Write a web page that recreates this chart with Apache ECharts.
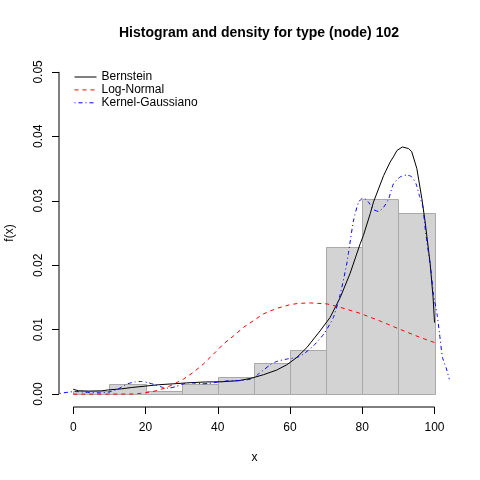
<!DOCTYPE html>
<html>
<head>
<meta charset="utf-8">
<script src="https://cdn.jsdelivr.net/npm/echarts@6/dist/echarts.min.js"></script>
<style>
  html, body { margin: 0; padding: 0; background: #fff; }
  #chart { width: 480px; height: 480px; }
</style>
</head>
<body>
<div id="chart"></div>
<script>
// histogram bins (density scale)
var binStarts = [0, 10, 20, 30, 40, 50, 60, 70, 80, 90];
var binEnds = [10, 20, 30, 40, 50, 60, 70, 80, 90, 100];
var binHeights = [0.0005, 0.0016, 0.0005, 0.0016, 0.0027, 0.0049, 0.0068, 0.0229, 0.0303, 0.0281];

// Bernstein estimate
var bernX = [0, 1.4, 4.2, 7.9, 9.7, 13.4, 16.2, 19.9, 23.5, 27.7, 31.9, 36.5, 41.1, 45.7, 49, 52.6, 56.3, 59.1, 61.9, 64.7, 68.3, 71.1, 73.9, 76.6, 79.4, 80.3, 82.2, 83.1, 85.9, 87.7, 88.6, 89.6, 91.1, 92.8, 93.7, 95.1, 96.5, 97.4, 98.3, 98.8, 99.6, 100];
var bernY = [0.00075, 0.00052, 0.00047, 0.00051, 0.00065, 0.00082, 0.00103, 0.00124, 0.00145, 0.0016, 0.00176, 0.00188, 0.00192, 0.00208, 0.00243, 0.003, 0.00373, 0.00455, 0.0057, 0.00725, 0.0098, 0.0119, 0.015, 0.0187, 0.0233, 0.0246, 0.028, 0.0298, 0.0339, 0.036, 0.0368, 0.0378, 0.03835, 0.0381, 0.0376, 0.035, 0.0303, 0.0267, 0.0225, 0.0202, 0.015, 0.0111];

// Log-Normal fit
var lnX = [0, 10, 17, 19.9, 22.6, 25.4, 27.3, 30.5, 33.2, 36, 38.8, 41.6, 44.3, 47.1, 49.9, 52.6, 56.3, 60, 62.3, 65.6, 70.2, 73.9, 79.4, 85.4, 90, 96, 100];
var lnY = [0, 0, 0.00002, 0.0002, 0.00047, 0.00093, 0.0014, 0.00233, 0.00336, 0.00466, 0.0062, 0.0078, 0.009, 0.01035, 0.0114, 0.01244, 0.0133, 0.01388, 0.01408, 0.01415, 0.014, 0.01347, 0.01253, 0.01124, 0.01015, 0.0088, 0.008];

// Gaussian kernel estimate
var kerX = [-3.7, -1.4, 0.5, 3.2, 6.9, 9.7, 12.5, 14.8, 17.1, 18.9, 20.8, 22.6, 24.5, 26.3, 28.2, 30, 31.9, 33.7, 35.6, 37.4, 40.2, 42.9, 46.6, 49.4, 51.2, 52.6, 54.5, 56.3, 59.1, 61.9, 63.7, 66.5, 69.3, 72, 73.9, 75.7, 76.2, 77.6, 79, 80.3, 81.7, 83.1, 84.5, 85.9, 87.3, 88.6, 90.5, 92.4, 93.7, 94.9, 95.8, 96.8, 97.2, 97.9, 99, 99.7, 100.7, 101.4, 102.2, 103.2, 104.1];
var kerY = [0.0001, 0.0003, 0.0004, 0.0003, 0.0002, 0.0003, 0.00082, 0.00155, 0.0019, 0.00196, 0.00176, 0.00145, 0.00109, 0.00093, 0.00113, 0.0015, 0.00176, 0.0017, 0.0016, 0.00165, 0.00187, 0.00207, 0.00212, 0.00238, 0.0031, 0.0037, 0.00455, 0.00507, 0.00544, 0.0057, 0.0062, 0.0075, 0.0093, 0.0119, 0.0155, 0.0202, 0.022, 0.027, 0.0298, 0.03047, 0.0298, 0.02865, 0.02834, 0.029, 0.0303, 0.0326, 0.0337, 0.034, 0.0337, 0.0326, 0.0308, 0.029, 0.0267, 0.0236, 0.0192, 0.0155, 0.0124, 0.0093, 0.0057, 0.0041, 0.0023];

var xTicks = [0, 20, 40, 60, 80, 100];
var yTicks = [0, 0.01, 0.02, 0.03, 0.04, 0.05];

var xMin = -3.95, xMax = 104.28;
var yMin = -0.002, yMax = 0.052;

function pairs(xs, ys) {
  return xs.map(function(x, i) { return [x, ys[i]]; });
}

var font = "'Liberation Sans', Arial, sans-serif";
var chart = echarts.init(document.getElementById('chart'), null, { renderer: 'canvas' });

chart.setOption({
  animation: false,
  backgroundColor: '#fff',
  title: {
    text: 'Histogram and density for type (node) 102',
    left: 254, textAlign: 'center', top: 21,
    textStyle: { fontFamily: font, fontSize: 14, fontWeight: 'bold', color: '#000' }
  },
  legend: {
    data: ['Bernstein', 'Log-Normal', 'Kernel-Gaussiano'],
    orient: 'vertical', left: 69, top: 66,
    itemWidth: 22, itemHeight: 14, itemGap: 0.9,
    itemStyle: { opacity: 0 },
    lineStyle: { width: 1 },
    textStyle: { fontFamily: font, fontSize: 12, color: '#000' }
  },
  grid: { left: 59, right: 30, top: 59, bottom: 73, outerBoundsMode: 'none' },
  xAxis: {
    type: 'value', min: xMin, max: xMax,
    name: 'x', nameLocation: 'middle', nameGap: 45,
    nameTextStyle: { fontFamily: font, fontSize: 12, color: '#000' },
    axisLine: { show: false, onZero: false },
    splitLine: { show: false },
    axisTick: { show: true, customValues: xTicks, length: 7, lineStyle: { color: '#000' } },
    axisLabel: { customValues: xTicks, margin: 15, fontFamily: font, fontSize: 12, color: '#000' }
  },
  yAxis: {
    type: 'value', min: yMin, max: yMax,
    name: 'f(x)', nameLocation: 'middle', nameGap: 43,
    nameTextStyle: { fontFamily: font, fontSize: 12, color: '#000' },
    axisLine: { show: false, onZero: false },
    splitLine: { show: false },
    axisTick: { show: true, customValues: yTicks, length: 7, lineStyle: { color: '#000' } },
    axisLabel: {
      customValues: yTicks, rotate: 90, margin: 14,
      fontFamily: font, fontSize: 12, color: '#000',
      formatter: function(v) { return v.toFixed(2); }
    }
  },
  series: [
    {
      type: 'custom', name: 'hist', silent: true,
      data: binStarts.map(function(s, i) { return [s, binEnds[i], binHeights[i]]; }),
      encode: { x: [0, 1], y: 2 },
      renderItem: function(params, api) {
        var p0 = api.coord([api.value(0), api.value(2)]);
        var p1 = api.coord([api.value(1), 0]);
        return {
          type: 'rect',
          shape: { x: Math.round(p0[0]) + 0.5, y: Math.round(p0[1]) + 0.5,
                   width: Math.round(p1[0]) - Math.round(p0[0]), height: Math.round(p1[1]) - Math.round(p0[1]) },
          style: { fill: '#d3d3d3', stroke: '#a9a9a9', lineWidth: 1 }
        };
      }
    },
    {
      type: 'line', name: 'xaxisline', silent: true, clip: false, symbol: 'none', z: 5,
      data: [[xTicks[0], yMin], [xTicks[xTicks.length - 1], yMin]],
      lineStyle: { color: '#000', width: 1 }
    },
    {
      type: 'line', name: 'yaxisline', silent: true, clip: false, symbol: 'none', z: 5,
      data: [[xMin, yTicks[0]], [xMin, yTicks[yTicks.length - 1]]],
      lineStyle: { color: '#000', width: 1 }
    },
    {
      type: 'line', name: 'Bernstein', symbol: 'none', clip: false,
      data: pairs(bernX, bernY),
      lineStyle: { color: '#000', width: 1 }, itemStyle: { color: '#000' }
    },
    {
      type: 'line', name: 'Log-Normal', symbol: 'none', clip: false,
      data: pairs(lnX, lnY),
      lineStyle: { color: '#ff0000', width: 1, type: [4, 4] }, itemStyle: { color: '#ff0000' }
    },
    {
      type: 'line', name: 'Kernel-Gaussiano', symbol: 'none', clip: false, smooth: 0.2,
      data: pairs(kerX, kerY),
      lineStyle: { color: '#0000ff', width: 1, type: [1, 3, 4, 3] }, itemStyle: { color: '#0000ff' }
    }
  ]
});
window.addEventListener('resize', function() { chart.resize(); });
</script>
</body>
</html>
